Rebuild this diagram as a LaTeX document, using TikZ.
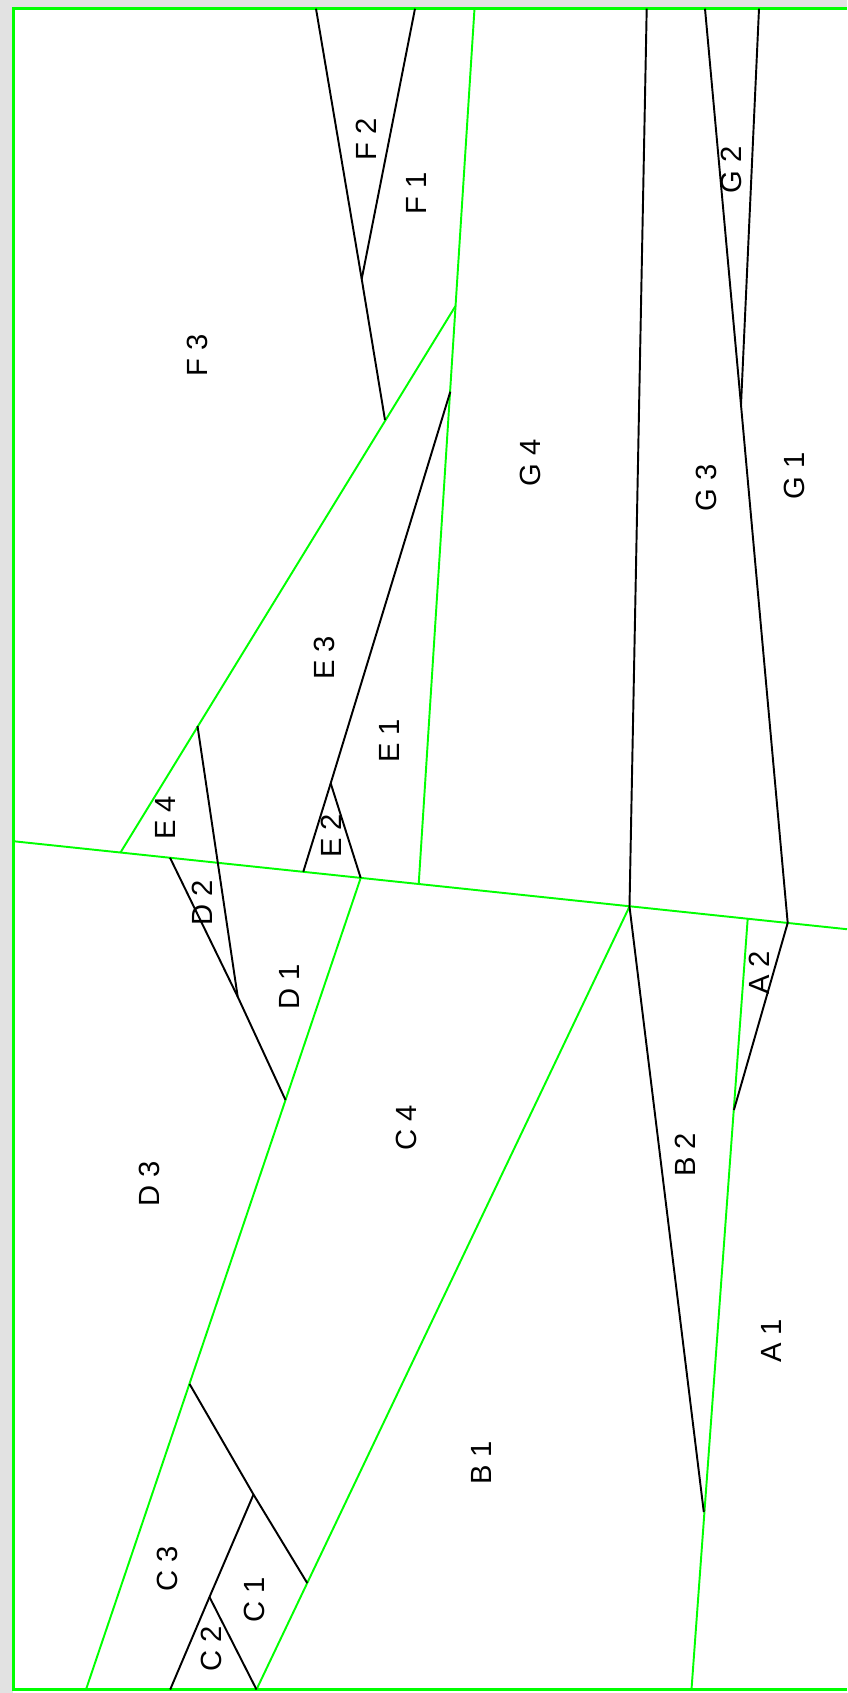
\documentclass[tikz,border=0pt]{standalone}
\usepackage{xcolor}
\usepackage{tikz}
\usepackage{fontspec}
\setmainfont{Liberation Sans}
\usetikzlibrary{positioning,calc}
\definecolor{pgGreen} {RGB}{  0,255,  0}
\definecolor{pgGrey}  {RGB}{226,226,226}
\definecolor{pgInk}   {RGB}{  0,  0,  0}
\newcommand{\lbl}{\fontsize{8.3}{10}\selectfont}

\begin{document}
\begin{tikzpicture}[
  x=0.01cm, y=-0.01cm,
  every node/.style={font=\lbl,rotate=90,inner sep=0pt},
  frame/.style={draw=pgGreen,line width=0.75pt},
  wall/.style ={draw=pgGreen,line width=0.55pt},
  seam/.style ={draw=pgInk,line width=0.55pt,line join=miter}
]
\useasboundingbox (0,0) rectangle (847,1693);
\fill[pgGrey] (0,0) rectangle (847,1693);
\fill[white]  (13.3,8.7) rectangle (847,1693);
\draw[frame] (847,8.7) -- (13.3,8.7) -- (13.3,1689.5) -- (847,1689.5);

\coordinate (hL) at (13.3,841.2);
\coordinate (hR) at (847,929.2);
\coordinate (vT) at (474.5,8.7);
\coordinate (vB) at (418.7,884);
\coordinate (dT) at (455.5,306);
\coordinate (dB) at (120.5,852.5);
\coordinate (fL) at (316,8.7);
\coordinate (fR) at (415,8.7);
\coordinate (fA) at (361.7,279);
\coordinate (fE) at (385,420);
\coordinate (eT) at (450.3,391.7);
\coordinate (eA) at (330.7,783.3);
\coordinate (eL) at (303.3,871.7);
\coordinate (eR) at (360.7,877.9);
\coordinate (j4) at (197.5,726);
\coordinate (dM) at (237.7,996.7);
\coordinate (dE) at (285.5,1100);
\coordinate (d2) at (170,857.7);
\coordinate (bT) at (646.7,8.7);
\coordinate (bA) at (629.5,906.5);
\coordinate (bE) at (703.8,1512);
\coordinate (aT) at (747.7,918.7);
\coordinate (aL) at (691.5,1689.5);
\coordinate (aB) at (733.9,1110);
\coordinate (gL) at (705,8.7);
\coordinate (gR) at (759,8.7);
\coordinate (gA) at (741,405);
\coordinate (gB) at (787.7,922.9);
\coordinate (c3) at (189.6,1384);
\coordinate (cM) at (253.5,1494.5);
\coordinate (cE) at (307.2,1583);
\coordinate (c2) at (209.5,1597);
\coordinate (cB) at (170.2,1689.5);
\coordinate (cL) at (86,1689.5);
\coordinate (cR) at (256.5,1689.5);

\draw[wall] (hL) -- (hR);
\draw[wall] (vT) -- (vB);
\draw[wall] (dT) -- (dB);
\draw[wall] (eR) -- (cL);
\draw[wall] (bA) -- (cR);
\draw[wall] (aT) -- (aL);

\draw[seam] (fL) -- (fA) -- (fE);
\draw[seam] (fR) -- (fA);
\draw[seam] (eT) -- (eA) -- (eL);
\draw[seam] (eA) -- (eR);
\draw[seam] (j4) -- (dM) -- (dE);
\draw[seam] (d2) -- (dM);
\draw[seam] (bT) -- (bA) -- (bE);
\draw[seam] (gL) -- (gA) -- (gB) -- (aB);
\draw[seam] (gR) -- (gA);
\draw[seam] (c3) -- (cM) -- (cE);
\draw[seam] (cM) -- (c2) -- (cB);
\draw[seam] (c2) -- (cR);

\node (F2) at (366,139)  {F 2};
\node (F1) at (416,193)  {F 1};
\node (F3) at (197,355)  {F 3};
\node (G2) at (731,170)  {G 2};
\node (G4) at (530,463)  {G 4};
\node (G3) at (706,488)  {G 3};
\node (G1) at (794,476)  {G 1};
\node (E3) at (324,658)  {E 3};
\node (E1) at (389,741)  {E 1};
\node (E4) at (165,818)  {E 4};
\node (E2) at (331,836)  {E 2};
\node (D2) at (202,903)  {D 2};
\node (D1) at (289,987)  {D 1};
\node (D3) at (149,1184) {D 3};
\node (C4) at (406,1128) {C 4};
\node (B2) at (685,1155) {B 2};
\node (A2) at (759,973)  {A 2};
\node (A1) at (771,1341) {A 1};
\node (B1) at (481,1463) {B 1};
\node (C3) at (167,1569) {C 3};
\node (C1) at (254,1600) {C 1};
\node (C2) at (211,1649) {C 2};
\end{tikzpicture}
\end{document}
